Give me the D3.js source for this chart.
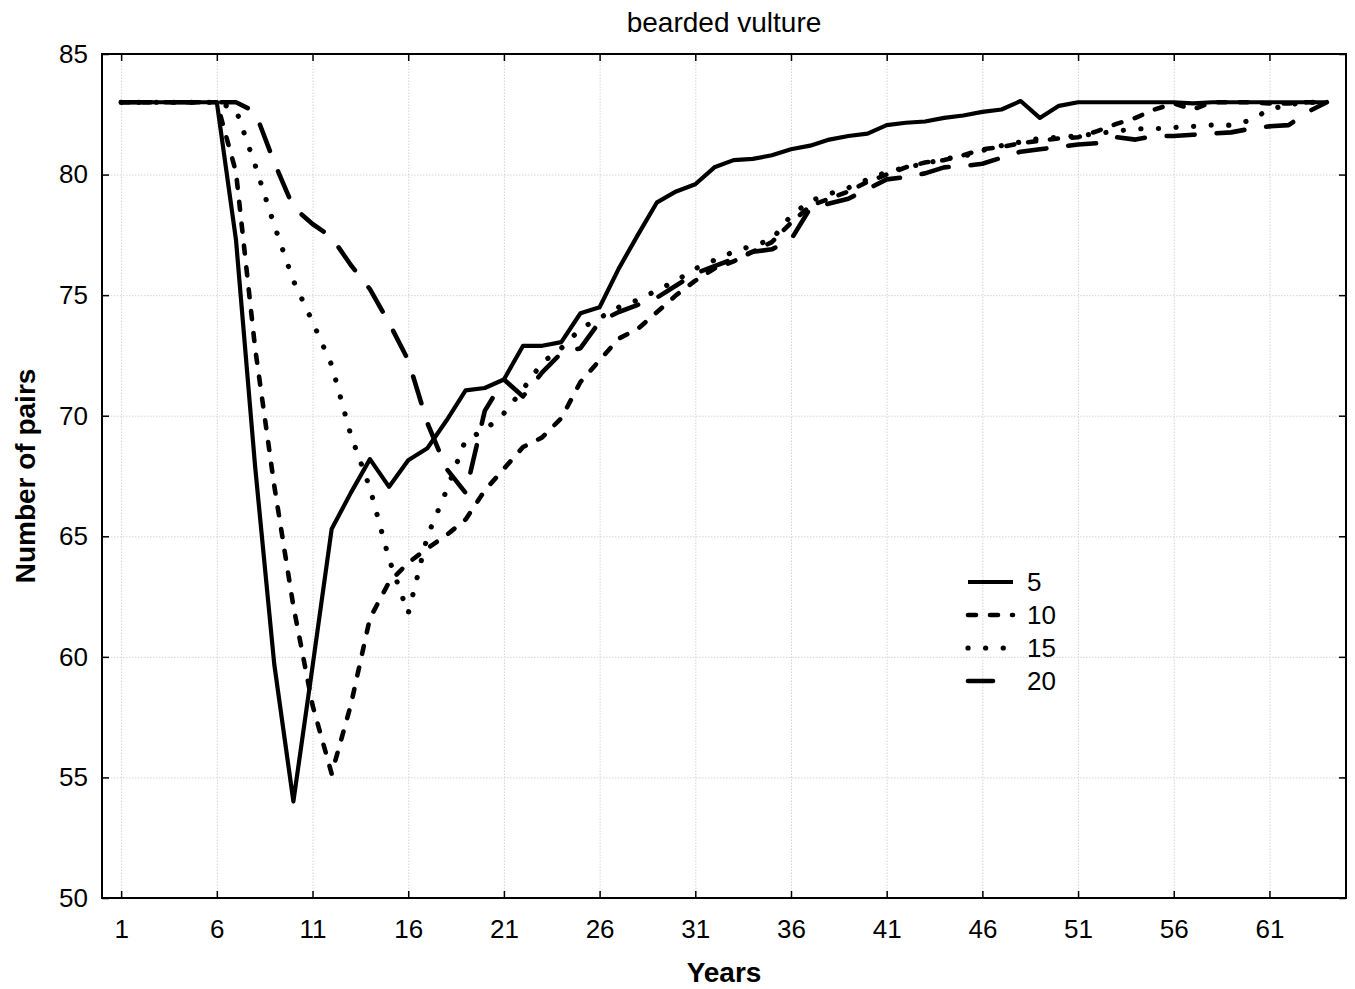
<!DOCTYPE html>
<html>
<head>
<meta charset="utf-8">
<script src="https://cdn.jsdelivr.net/npm/d3@7"></script>
<style>
  html, body { margin: 0; padding: 0; background: #fff; }
  svg { display: block; font-family: "Liberation Sans", Arial, sans-serif; }
</style>
</head>
<body>
<svg id="chart" width="1355" height="989"></svg>
<script>
// Simulated number of breeding pairs over time, one run per scenario
const years = d3.range(1, 65);

const pairs5 = [
  83, 83, 83, 83, 83, 83, 77.3, 67.9, 59.7, 54.0,
  59.6, 65.3, 66.8, 68.2, 67.05, 68.15, 68.65, 69.8, 71.05, 71.15,
  71.5, 72.9, 72.9, 73.05, 74.25, 74.5, 76.1, 77.5, 78.85, 79.3,
  79.6, 80.3, 80.6, 80.65, 80.8, 81.05, 81.2, 81.45, 81.6, 81.7,
  82.05, 82.15, 82.2, 82.35, 82.45, 82.6, 82.7, 83.05, 82.35, 82.85,
  83, 83, 83, 83, 83, 83, 82.95, 83, 83, 83,
  83, 83, 83, 83
];

const pairs10 = [
  83, 83, 83, 83, 83, 83, 80.1, 72.8, 67.1, 62.1,
  58.0, 55.15, 58.0, 61.6, 63.1, 63.9, 64.5, 65.05, 65.7, 66.9,
  67.8, 68.7, 69.1, 69.9, 71.4, 72.3, 73.2, 73.6, 74.3, 75.0,
  75.6, 76.1, 76.4, 76.8, 77.2, 78.0, 78.7, 79.0, 79.3, 79.7,
  80.0, 80.3, 80.5, 80.6, 80.8, 81.05, 81.15, 81.3, 81.4, 81.5,
  81.55, 81.8, 82.1, 82.35, 82.7, 82.95, 82.7, 83.0, 83.0, 83.0,
  82.95, 82.95, 83.0, 83.0
];

const pairs15 = [
  83, 83, 83, 83, 83, 83, 82.7, 80.4, 77.9, 75.6,
  73.9, 72.1, 69.2, 67.0, 64.05, 61.8, 65.0, 66.9, 69.0, 69.4,
  70.1, 71.1, 72.2, 72.8, 73.6, 74.05, 74.5, 74.8, 75.2, 75.6,
  76.1, 76.45, 76.8, 77.05, 77.3, 78.3, 78.9, 79.2, 79.45, 79.8,
  80.1, 80.3, 80.45, 80.65, 80.75, 81.0, 81.2, 81.35, 81.5, 81.55,
  81.6, 81.7, 81.8, 81.9, 81.9, 81.95, 82.0, 82.05, 82.05, 82.25,
  82.7, 82.9, 83.0, 83.0
];

const pairs20 = [
  83, 83, 83, 83, 83, 83, 83.0, 82.6, 80.5, 78.65,
  77.95, 77.4, 76.25, 75.25, 73.85, 72.3, 69.7, 67.8, 66.8, 70.2,
  71.5, 70.8, 71.8, 72.6, 72.8, 73.9, 74.3, 74.6, 74.9, 75.4,
  75.9, 76.2, 76.5, 76.8, 76.9, 77.3, 78.6, 78.8, 79.0, 79.4,
  79.8, 79.9, 80.05, 80.3, 80.35, 80.45, 80.7, 80.95, 81.05, 81.15,
  81.25, 81.3, 81.55, 81.45, 81.6, 81.6, 81.65, 81.7, 81.75, 81.9,
  82.0, 82.05, 82.6, 83.0
];

const seriesLabels = ["5", "10", "15", "20"];
const xTickValues = d3.range(1, 62, 5);
const yTickValues = [50, 55, 60, 65, 70, 75, 80, 85];

const chartTitle = "bearded vulture";
const xTitle = "Years";
const yTitle = "Number of pairs";

// Layout
const svg = d3.select("#chart");
const plotL = 102, plotR = 1346, plotT = 54, plotB = 898;
const plotW = plotR - plotL, plotH = plotB - plotT;

const x = d3.scaleLinear().domain([0, 65]).range([plotL, plotR]);
const y = d3.scaleLinear().domain([50, 85]).range([plotB, plotT]);

// Dotted grid
const grid = svg.append("g").attr("class", "grid");
grid.append("g")
  .attr("transform", `translate(0,${plotB})`)
  .call(d3.axisBottom(x).tickValues(xTickValues).tickSize(-plotH).tickFormat(""))
  .call(g => g.select(".domain").remove());
grid.append("g")
  .attr("transform", `translate(${plotL},0)`)
  .call(d3.axisLeft(y).tickValues(yTickValues).tickSize(-plotW).tickFormat(""))
  .call(g => g.select(".domain").remove());
grid.selectAll("line")
  .attr("stroke", "#d4d4d4")
  .attr("stroke-width", 1)
  .attr("stroke-dasharray", "1.5,1.5");

// Series lines
const line = d3.line()
  .x((d, i) => x(years[i]))
  .y(d => y(d));

const styles = [
  { data: pairs5,  dash: null,       width: 4.2 },
  { data: pairs10, dash: "8,14",     width: 4.6 },
  { data: pairs15, dash: "0.1,17.5", width: 5.2 },
  { data: pairs20, dash: "28,22",    width: 4.6 }
];

const lines = svg.append("g").attr("class", "series");
styles.slice().reverse().forEach(s => {
  lines.append("path")
    .datum(s.data)
    .attr("fill", "none")
    .attr("stroke", "#000")
    .attr("stroke-width", s.width)
    .attr("stroke-linecap", s.dash ? "round" : "butt")
    .attr("stroke-linejoin", "round")
    .attr("stroke-dasharray", s.dash)
    .attr("d", line);
});

// Axes with inward ticks on all four sides
const tickFont = 26;
const axB = svg.append("g")
  .attr("transform", `translate(0,${plotB})`)
  .call(d3.axisBottom(x).tickValues(xTickValues).tickSize(-7).tickPadding(22).tickFormat(d3.format("d")));
const axT = svg.append("g")
  .attr("transform", `translate(0,${plotT})`)
  .call(d3.axisTop(x).tickValues(xTickValues).tickSize(-7).tickFormat(""));
const axL = svg.append("g")
  .attr("transform", `translate(${plotL},0)`)
  .call(d3.axisLeft(y).tickValues(yTickValues).tickSize(-7).tickPadding(14).tickFormat(d3.format("d")));
const axR = svg.append("g")
  .attr("transform", `translate(${plotR},0)`)
  .call(d3.axisRight(y).tickValues(yTickValues).tickSize(-7).tickFormat(""));

[axB, axT, axL, axR].forEach(a => {
  a.select(".domain").remove();
  a.selectAll("line").attr("stroke", "#000").attr("stroke-width", 1.5);
  a.selectAll("text")
    .attr("fill", "#000")
    .style("font-size", tickFont + "px")
    .style("font-family", "'Liberation Sans', Arial, sans-serif");
});

// Plot frame
svg.append("rect")
  .attr("x", plotL).attr("y", plotT)
  .attr("width", plotW).attr("height", plotH)
  .attr("fill", "none")
  .attr("stroke", "#000")
  .attr("stroke-width", 2);

// Titles
svg.append("text")
  .attr("x", (plotL + plotR) / 2).attr("y", 32)
  .attr("text-anchor", "middle")
  .style("font-size", "28px")
  .text(chartTitle);

svg.append("text")
  .attr("x", (plotL + plotR) / 2).attr("y", 982)
  .attr("text-anchor", "middle")
  .style("font-size", "28px")
  .style("font-weight", "bold")
  .text(xTitle);

svg.append("text")
  .attr("transform", `translate(35,${(plotT + plotB) / 2}) rotate(-90)`)
  .attr("text-anchor", "middle")
  .style("font-size", "28px")
  .style("font-weight", "bold")
  .text(yTitle);

// Legend
const legend = svg.append("g").attr("transform", "translate(968,582)");
styles.forEach((s, i) => {
  const row = legend.append("g").attr("transform", `translate(0,${i * 33})`);
  row.append("line")
    .attr("x1", 0).attr("x2", 45)
    .attr("y1", 0).attr("y2", 0)
    .attr("stroke", "#000")
    .attr("stroke-width", s.width)
    .attr("stroke-linecap", s.dash ? "round" : "butt")
    .attr("stroke-dasharray", s.dash ? (i === 3 ? "25,40" : s.dash) : null);
  row.append("text")
    .attr("x", 59).attr("y", 0)
    .attr("dy", "0.36em")
    .style("font-size", "26px")
    .text(seriesLabels[i]);
});
</script>
</body>
</html>
